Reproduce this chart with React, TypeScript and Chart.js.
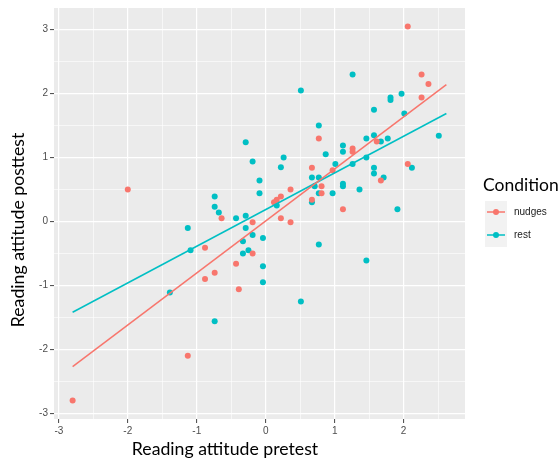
import { useEffect, useRef } from 'react';
import { Chart, registerables } from 'chart.js';

Chart.register(...registerables);

const SALMON = '#F8766D';
const TEAL = '#00BFC4';

// [pretest, posttest]
const nudges: [number, number][] = [
  [-2.0, 0.5], [-0.64, 0.05], [2.06, 3.05], [2.26, 2.3], [2.36, 2.15], [2.26, 1.94],
  [0.77, 1.3], [1.61, 1.25], [1.26, 1.14], [1.26, 1.09], [0.67, 0.84], [2.06, 0.9],
  [1.67, 0.64], [0.97, 0.8], [0.81, 0.55], [0.81, 0.44], [0.36, 0.5], [0.22, 0.39],
  [0.16, 0.34], [0.12, 0.3], [0.67, 0.34], [1.12, 0.19], [0.22, 0.05], [0.36, -0.01],
  [-0.19, -0.01], [-0.88, -0.41], [-0.43, -0.66], [-0.74, -0.8], [-0.88, -0.9],
  [-0.39, -1.06], [-1.13, -2.1], [-2.8, -2.8], [-0.19, -0.5],
];

const rest: [number, number][] = [
  [-0.74, 0.39], [-0.74, 0.23], [-0.68, 0.14], [-0.43, 0.05], [-0.29, 0.09], [-0.29, 1.24],
  [1.26, 2.3], [0.51, 2.05], [1.97, 2.0], [1.81, 1.94], [1.81, 1.9], [1.57, 1.75],
  [2.01, 1.69], [2.51, 1.34], [0.77, 1.5], [1.46, 1.3], [1.57, 1.35], [1.77, 1.3],
  [1.67, 1.25], [1.12, 1.19], [1.12, 1.09], [-0.19, 0.94], [0.26, 1.0], [0.22, 0.85],
  [0.87, 1.05], [1.46, 1.0], [1.01, 0.9], [1.26, 0.9], [1.57, 0.84], [2.12, 0.84],
  [1.57, 0.75], [1.71, 0.69], [-0.09, 0.64], [0.67, 0.69], [0.77, 0.69], [0.71, 0.55],
  [0.77, 0.44], [1.12, 0.59], [1.12, 0.55], [0.97, 0.44], [1.36, 0.5], [-0.09, 0.44],
  [0.16, 0.25], [0.67, 0.3], [1.91, 0.19], [-1.13, -0.1], [-1.09, -0.45], [-0.29, -0.1],
  [-0.33, -0.31], [-0.33, -0.5], [-0.25, -0.45], [-1.39, -1.11], [-0.74, -1.56],
  [-0.19, -0.21], [-0.04, -0.26], [-0.04, -0.7], [-0.04, -0.95], [0.77, -0.36],
  [1.46, -0.61], [0.51, -1.25],
];

// fitted regression lines (endpoints)
const nudgesFit: [number, number][] = [[-2.8, -2.27], [2.62, 2.14]];
const restFit: [number, number][] = [[-2.8, -1.42], [2.62, 1.69]];

const xGridValues = [-3, -2.5, -2, -1.5, -1, -0.5, 0, 0.5, 1, 1.5, 2, 2.5];
const yGridValues = [-3, -2.5, -2, -1.5, -1, -0.5, 0, 0.5, 1, 1.5, 2, 2.5, 3];
const X_RANGE = [-3.07, 2.89];
const Y_RANGE = [-3.09, 3.34];

const legendTitle = 'Condition';
const legendLabels = ['nudges', 'rest'];
const legendColors = [SALMON, TEAL];
const xTitle = 'Reading attitude pretest';
const yTitle = 'Reading attitude posttest';

const toXY = (arr: [number, number][]) => arr.map(([x, y]) => ({ x, y }));
const isMajor = (v: number) => Math.abs(v - Math.round(v)) < 1e-9;

export default function App() {
  const ref = useRef<HTMLCanvasElement>(null);

  useEffect(() => {
    const canvas = ref.current;
    if (!canvas) return;

    const panelPlugin = {
      id: 'ggPanel',
      beforeDraw(chart: any) {
        const { ctx, chartArea: a } = chart;
        ctx.save();
        ctx.fillStyle = '#FFFFFF';
        ctx.fillRect(0, 0, chart.width, chart.height);
        ctx.fillStyle = '#EBEBEB';
        ctx.fillRect(a.left, a.top, a.right - a.left, a.bottom - a.top);
        ctx.restore();
      },
      afterDraw(chart: any) {
        const { ctx, chartArea: a } = chart;
        ctx.save();
        // axis titles
        ctx.fillStyle = '#000000';
        ctx.font = '17.7px Lato';
        ctx.textAlign = 'center';
        ctx.textBaseline = 'middle';
        ctx.fillText(xTitle, 225, a.bottom + 30);
        ctx.save();
        ctx.translate(18, 230);
        ctx.rotate(-Math.PI / 2);
        ctx.fillText(yTitle, 0, 0);
        ctx.restore();

        // legend
        const lx = a.right + 18;
        ctx.textAlign = 'left';
        ctx.font = '17.5px Lato';
        ctx.fillText(legendTitle, lx, 185);
        ctx.fillStyle = '#F2F2F2';
        ctx.fillRect(lx + 2, 201, 22, 46);
        legendLabels.forEach((lab, i) => {
          const cy = 212 + i * 23;
          ctx.strokeStyle = legendColors[i];
          ctx.lineWidth = 1.5;
          ctx.beginPath();
          ctx.moveTo(lx + 4, cy);
          ctx.lineTo(lx + 22, cy);
          ctx.stroke();
          ctx.fillStyle = legendColors[i];
          ctx.beginPath();
          ctx.arc(lx + 13, cy, 3, 0, Math.PI * 2);
          ctx.fill();
          ctx.fillStyle = '#1A1A1A';
          ctx.font = '10px "Liberation Sans"';
          ctx.fillText(lab, lx + 31, cy);
        });
        ctx.restore();
      },
    };

    const tickFont = { family: '"Liberation Sans", Arial, sans-serif', size: 10 };

    const gridOpts = {
      color: '#FFFFFF',
      lineWidth: (c: any) => (c.tick && isMajor(c.tick.value) ? 1.2 : 0.6),
      tickColor: (c: any) => (c.tick && isMajor(c.tick.value) ? '#444444' : 'rgba(0,0,0,0)'),
      tickLength: 4,
      tickWidth: 1,
      drawTicks: true,
    };

    const chart = new Chart(canvas, {
      type: 'scatter',
      data: {
        datasets: [
          {
            label: 'nudges fit',
            data: toXY(nudgesFit),
            showLine: true,
            borderColor: SALMON,
            borderWidth: 1.5,
            pointRadius: 0,
            fill: false,
          },
          {
            label: 'rest fit',
            data: toXY(restFit),
            showLine: true,
            borderColor: TEAL,
            borderWidth: 1.5,
            pointRadius: 0,
            fill: false,
          },
          {
            label: 'nudges',
            data: toXY(nudges),
            backgroundColor: SALMON,
            borderWidth: 0,
            pointRadius: 3,
          },
          {
            label: 'rest',
            data: toXY(rest),
            backgroundColor: TEAL,
            borderWidth: 0,
            pointRadius: 3,
          },
        ],
      },
      options: {
        responsive: false,
        animation: false,
        events: [],
        layout: { padding: { top: 7, right: 95, bottom: 0, left: 0 } },
        plugins: { legend: { display: false }, tooltip: { enabled: false } },
        scales: {
          x: {
            type: 'linear',
            min: X_RANGE[0],
            max: X_RANGE[1],
            afterBuildTicks: (s: any) => {
              s.ticks = xGridValues.map((v) => ({ value: v }));
            },
            afterFit: (s: any) => {
              s.height = 42;
            },
            border: { display: false },
            grid: gridOpts as any,
            ticks: {
              autoSkip: false,
              maxRotation: 0,
              padding: 2,
              color: '#4D4D4D',
              font: tickFont,
              callback: (v: any) => (isMajor(Number(v)) ? String(Math.round(Number(v))) : ''),
            },
          },
          y: {
            type: 'linear',
            min: Y_RANGE[0],
            max: Y_RANGE[1],
            afterBuildTicks: (s: any) => {
              s.ticks = yGridValues.map((v) => ({ value: v }));
            },
            afterFit: (s: any) => {
              s.width = 54;
            },
            border: { display: false },
            grid: gridOpts as any,
            ticks: {
              autoSkip: false,
              padding: 2,
              color: '#4D4D4D',
              font: tickFont,
              callback: (v: any) => (isMajor(Number(v)) ? String(Math.round(Number(v))) : ''),
            },
          },
        },
      },
      plugins: [panelPlugin],
    });

    return () => chart.destroy();
  }, []);

  return (
    <canvas
      ref={ref}
      width={560}
      height={461}
      style={{ position: 'absolute', left: 0, top: 0, width: 560, height: 461 }}
    />
  );
}
